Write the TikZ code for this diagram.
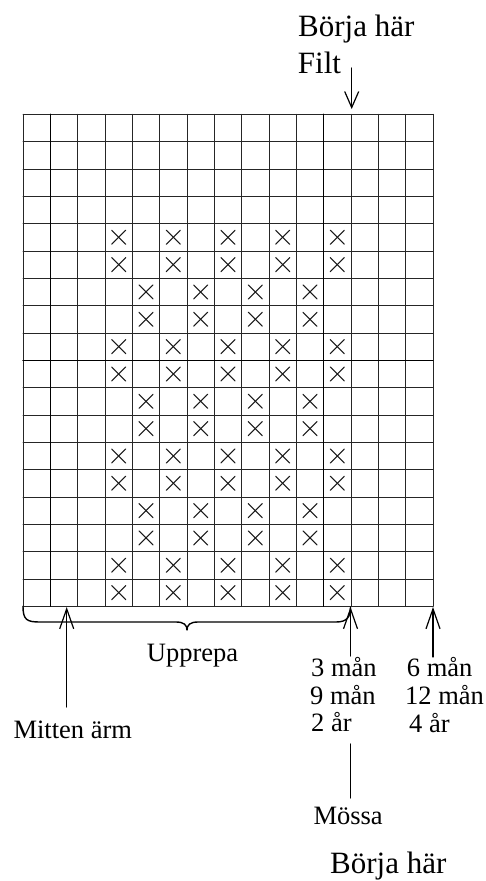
\documentclass[tikz,border=0pt]{standalone}
\usepackage{fontspec}
\setmainfont{Liberation Serif}
\usetikzlibrary{arrows.meta}

\begin{document}
\begin{tikzpicture}[x=1pt, y=-1pt, line cap=round, line join=round,
  gridline/.style={line width=0.9pt, black!85},
  boldline/.style={line width=1.3pt, black},
  xmark/.style={line width=1.1pt, black!90},
  arr/.style={line width=1.2pt, -{Straight Barb[length=20pt,width=14pt,line width=1.2pt]}},
  lbl/.style={inner sep=0pt, anchor=base west, font=\fontsize{26.5}{28}\selectfont},
  big/.style={inner sep=0pt, anchor=base west, font=\fontsize{31}{34}\selectfont}]

  \useasboundingbox (0,0) rectangle (485,881);

  \def\cs{27.333}
  \def\gx{23}
  \def\gy{114.3}

  % grid 15 x 18
  \foreach \i in {0,...,15}
    \draw[gridline] ({\gx+\cs*\i},\gy) -- ({\gx+\cs*\i},{\gy+18*\cs});
  \foreach \j in {0,...,18}
    \draw[gridline] (\gx,{\gy+\cs*\j}) -- ({\gx+15*\cs},{\gy+\cs*\j});
  \draw[boldline] ({\gx+\cs},\gy) -- ({\gx+\cs},{\gy+18*\cs});
  \draw[boldline] ({\gx+11*\cs},\gy) -- ({\gx+11*\cs},{\gy+18*\cs});
  \draw[boldline] (\gx,{\gy+9*\cs}) -- ({\gx+15*\cs},{\gy+9*\cs});

  % crosses
  \foreach \r in {4,...,17} {
    \pgfmathtruncatemacro{\p}{mod(floor((\r-4)/2),2)}
    \foreach \c in {3,5,7,9,11} {
      \pgfmathtruncatemacro{\col}{\c+\p}
      \ifnum\col<12
        \pgfmathsetmacro{\cx}{\gx+\cs*(\col+0.5)}
        \pgfmathsetmacro{\cy}{\gy+\cs*(\r+0.5)}
        \draw[xmark] (\cx-7,\cy-7) -- (\cx+7,\cy+7);
        \draw[xmark] (\cx-7,\cy+7) -- (\cx+7,\cy-7);
      \fi
    }
  }

  % points on the grid
  \coordinate (g-filt) at (351.7,109);
  \coordinate (g-mitten) at (66.7,607);
  \coordinate (g-small) at (350.5,607);
  \coordinate (g-large) at (433,607);
  \coordinate (filt-end) at (351.7,68);
  \coordinate (mitten-end) at (66.7,707);
  \coordinate (small-end) at (350.5,656);
  \coordinate (large-end) at (433,657);
  \coordinate (mossa-top) at (350.5,744);
  \coordinate (mossa-bot) at (350.5,798);

  % labels
  \node[big] (start-top) at (298,36.7) {Börja här};
  \node[big] (filt) at (297.7,73.3) {Filt};
  \node[lbl] (upprepa) at (146.7,661.7) {Upprepa};
  \node[lbl] (mitten) at (13.3,738) {Mitten ärm};
  \node[lbl] (m3) at (311,676) {3 mån};
  \node[lbl] (m9) at (310,704) {9 mån};
  \node[lbl] (y2) at (311,731.7) {2 år};
  \node[lbl] (m6) at (406.7,676) {6 mån};
  \node[lbl] (m12) at (405,704) {12 mån};
  \node[lbl] (y4) at (409,732) {4 år};
  \node[lbl] (mossa) at (313.3,824) {Mössa};
  \node[big] (start-bot) at (330,873.5) {Börja här};

  % arrows
  \draw[arr, -{Straight Barb[length=16pt,width=14pt,line width=1.2pt]}] (filt-end) -- (g-filt);
  \draw[arr] (mitten-end) -- (g-mitten);
  \draw[arr] (small-end) -- (g-small);
  \draw[arr] (large-end) -- (g-large);
  \draw[line width=1.2pt] (mossa-top) -- (mossa-bot);

  % brace
  \draw[line width=1.4pt] (\gx,606.3) .. controls (\gx,620) and (27,622) .. (40,622)
    -- (176,622) .. controls (184,622) and (187,625) .. (187,630)
    .. controls (187,625) and (190,622) .. (198,622)
    -- (336,622) .. controls (347,622) and (350.5,617) .. (g-small);
\end{tikzpicture}
\end{document}
